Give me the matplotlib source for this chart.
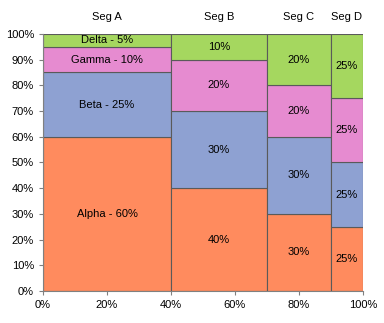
import matplotlib
matplotlib.use("Agg")
import matplotlib.pyplot as plt
from matplotlib.ticker import PercentFormatter

plt.rcParams['font.family'] = ['Liberation Sans', 'DejaVu Sans']

segments = ["Seg A", "Seg B", "Seg C", "Seg D"]
seg_widths = [40, 30, 20, 10]          # share of total, %
series = ["Alpha", "Beta", "Gamma", "Delta"]
alpha = [60, 40, 30, 25]
beta = [25, 30, 30, 25]
gamma = [10, 20, 20, 25]
delta = [5, 10, 20, 25]
colors = ["#FF8B5E", "#8EA1D2", "#E68BD0", "#A5D75F"]

values = [alpha, beta, gamma, delta]

fig = plt.figure(figsize=(3.84, 3.23), dpi=100)
ax = fig.add_axes([0.112, 0.099, 0.833, 0.796])

lefts = []
acc = 0
for w in seg_widths:
    lefts.append(acc)
    acc += w

for j, (left, w) in enumerate(zip(lefts, seg_widths)):
    bottom = 0
    for i, name in enumerate(series):
        v = values[i][j]
        ax.bar(left, v, width=w, bottom=bottom, align='edge',
               color=colors[i], edgecolor="#5a5a5a", linewidth=0.8)
        label = f"{name} - {v}%" if j == 0 else f"{v}%"
        ax.text(left + w / 2, bottom + v / 2, label, ha='center', va='center',
                fontsize=8, color='black')
        bottom += v
    ax.text(left + w / 2, 106.5, segments[j], ha='center', va='center',
            fontsize=8, clip_on=False)

ax.set_xlim(0, 100)
ax.set_ylim(0, 100)
ax.set_xticks(range(0, 101, 20))
ax.set_yticks(range(0, 101, 10))
ax.xaxis.set_major_formatter(PercentFormatter(decimals=0))
ax.yaxis.set_major_formatter(PercentFormatter(decimals=0))
ax.tick_params(labelsize=8, length=3, color="#808080", direction='out')
for s in ['top', 'right']:
    ax.spines[s].set_visible(False)
for s in ['left', 'bottom']:
    ax.spines[s].set_color("#808080")

fig.savefig("out.png", dpi=100)
